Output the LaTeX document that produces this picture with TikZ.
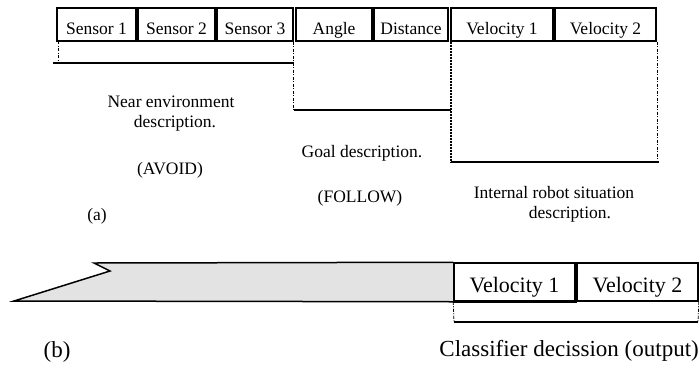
\documentclass[tikz,border=0pt]{standalone}
\usepackage{fontspec}
\setmainfont{Liberation Serif}
\definecolor{panelgray}{HTML}{E3E3E3}
\begin{document}
\begin{tikzpicture}[x=1pt,y=-1pt,
  cell/.style={draw=black,line width=1.5pt,inner xsep=0pt,inner ysep=0pt,
    minimum height=33pt,text height=26pt,text depth=7pt,
    font=\fontsize{17.5}{20}\selectfont},
  bigcell/.style={draw=black,line width=1.5pt,inner xsep=0pt,inner ysep=0pt,
    minimum height=38pt,text height=29pt,text depth=9pt,
    font=\fontsize{22}{26}\selectfont},
  label/.style={anchor=base,inner sep=0pt,font=\fontsize{17.5}{20}\selectfont},
  biglabel/.style={anchor=base,inner sep=0pt,font=\fontsize{23}{27}\selectfont},
  thindash/.style={line width=0.8pt,dash pattern=on 3pt off 1.5pt on 1pt off 1.5pt},
  heavydash/.style={line width=2pt,dash pattern=on 2pt off 1pt},
  baseline rule/.style={line width=1.5pt}]
\useasboundingbox (0,0) rectangle (699,365);

% top row of input fields
\node[cell,minimum width=79pt] (s1) at (96.5,24.5) {Sensor 1};
\node[cell,minimum width=77pt] (s2) at (176.5,24.5) {Sensor 2};
\node[cell,minimum width=76pt] (s3) at (255,24.5) {Sensor 3};
\node[cell,minimum width=76pt] (ang) at (334,24.5) {Angle};
\node[cell,minimum width=74pt] (dst) at (411,24.5) {Distance};
\node[cell,minimum width=102pt] (v1) at (502,24.5) {Velocity 1};
\node[cell,minimum width=101pt] (v2) at (605.5,24.5) {Velocity 2};

% bracket under the sensors
\coordinate (a1) at (58,63);
\coordinate (a0) at (53,63);
\coordinate (a2) at (293.5,63);
\draw[thindash] (58,41) -- (a1);
\draw[baseline rule] (a0) -- (a2);

% bracket under angle and distance
\coordinate (b1) at (293.5,110);
\coordinate (b2) at (451,110);
\draw[thindash] (a2 |- s3.south) -- (b1);
\draw[baseline rule] (b1) -- (b2);

% bracket under the velocities
\coordinate (c1) at (450.5,162);
\coordinate (c2) at (659,162);
\coordinate (c3) at (657.5,162);
\draw[heavydash] (c1 |- v1.south) -- (c1);
\draw[thindash] (c3 |- v2.south) -- (c3);
\draw[baseline rule] (c1) -- (c2);

% descriptions of the fields
\node[label] (near1) at (171,107) {Near environment};
\node[label] (near2) at (175,127) {description.};
\node[label] (avoid) at (170,174) {(AVOID)};
\node[label] (lbla) at (97,220) {(a)};
\node[label] (goal) at (362,157) {Goal description.};
\node[label] (follow) at (360,202) {(FOLLOW)};
\node[label] (int1) at (554,198) {Internal robot situation};
\node[label] (int2) at (570,218) {description.};

% classifier row
\node[bigcell,minimum width=121pt] (o1) at (514.5,282) {Velocity 1};
\node[bigcell,minimum width=121pt] (o2) at (637.5,282) {Velocity 2};
\filldraw[fill=panelgray,draw=black,line width=1.5pt,line join=miter]
  (o1.south west) -- (14,301) -- (110,271) -- (94,263) -- (o1.north west);
\draw[line width=1.5pt] (o1.north west) rectangle (o1.south east);

% bracket under the classifier output
\coordinate (d1) at (454,322);
\coordinate (d2) at (698,322);
\draw[thindash] (o1.south west) -- (d1);
\draw[thindash] (o2.south east) -- (d2);
\draw[baseline rule] (d1) -- (d2);

\node[biglabel] (lblb) at (57,357) {(b)};
\node[biglabel,anchor=base east] (cls) at (699,356) {Classifier decission (output)};
\end{tikzpicture}
\end{document}
